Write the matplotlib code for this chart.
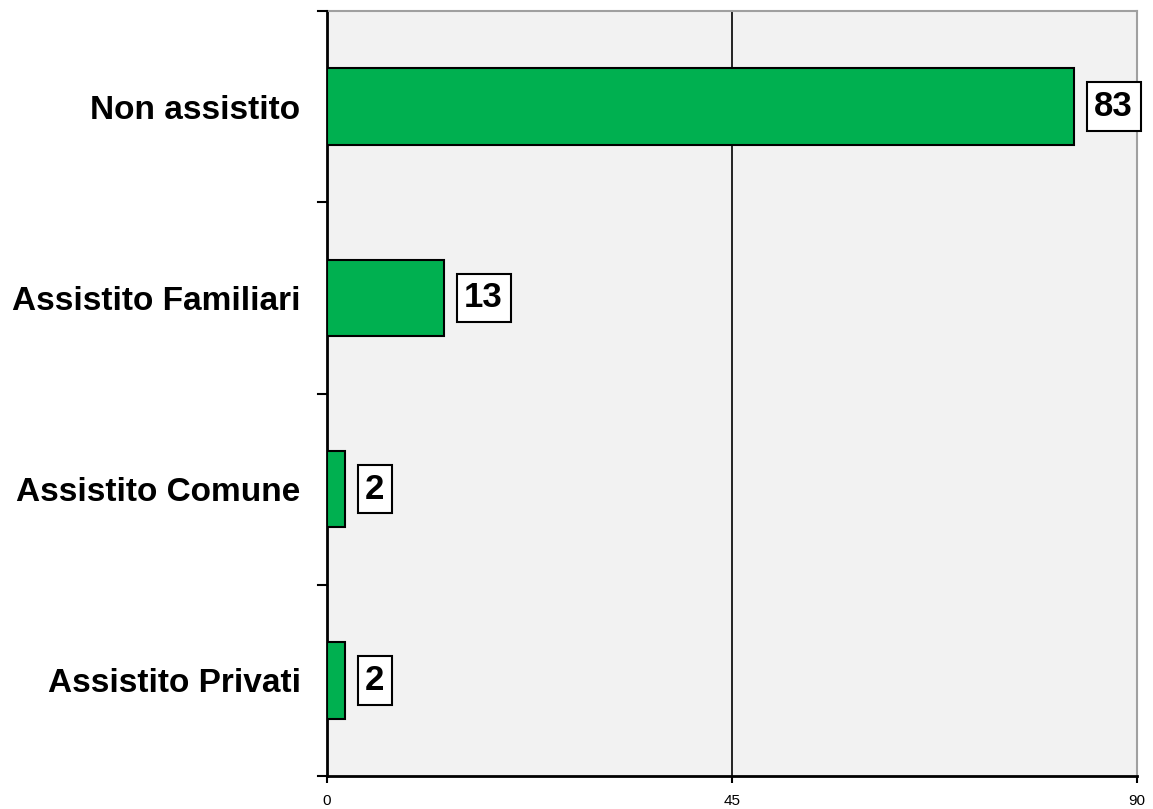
import matplotlib
matplotlib.use("Agg")
import matplotlib.pyplot as plt

categories = ["Non assistito", "Assistito Familiari", "Assistito Comune", "Assistito Privati"]
values = [83, 13, 2, 2]
xticks = [0, 45, 90]

plt.rcParams['font.family'] = ['Liberation Sans', 'DejaVu Sans']

fig = plt.figure(figsize=(11.53, 8.09), dpi=100)
ax = fig.add_axes([327/1153, 1 - 776/809, (1137 - 327)/1153, (776 - 11)/809])
ax.set_facecolor('#F2F2F2')

ypos = list(range(len(categories)))
ax.barh(ypos, values, height=0.4, color='#00B050', edgecolor='black', linewidth=1.5, zorder=3)
ax.set_xlim(0, 90)
ax.set_ylim(len(categories) - 0.5, -0.5)

ax.set_xticks(xticks)
ax.set_xticklabels([str(t) for t in xticks], fontsize=11)
ax.tick_params(axis='x', direction='out', length=5, width=1.5, pad=8)

ax.set_yticks(ypos)
ax.set_yticklabels(categories, fontsize=24, fontweight='bold')
ax.tick_params(axis='y', length=0, pad=19)
for b in [i - 0.5 for i in range(len(categories) + 1)]:
    ax.plot([-0.011, 0], [b, b], transform=ax.get_yaxis_transform(), color='black', lw=1.5, clip_on=False, zorder=5)

ax.axvline(45, color='black', lw=1.2, zorder=2)

for s in ['top', 'right']:
    ax.spines[s].set_color('#A0A0A0')
    ax.spines[s].set_linewidth(1.5)
for s in ['left', 'bottom']:
    ax.spines[s].set_color('black')
    ax.spines[s].set_linewidth(2)

for y, v in zip(ypos, values):
    ax.annotate(str(v), xy=(v, y), xytext=(14.5, 0), textcoords='offset points',
                va='center', ha='left', fontsize=25, fontweight='bold',
                bbox=dict(boxstyle='square,pad=0.22', facecolor='white', edgecolor='black', linewidth=1.5),
                annotation_clip=False, zorder=6)

fig.savefig('out.png', dpi=100)
